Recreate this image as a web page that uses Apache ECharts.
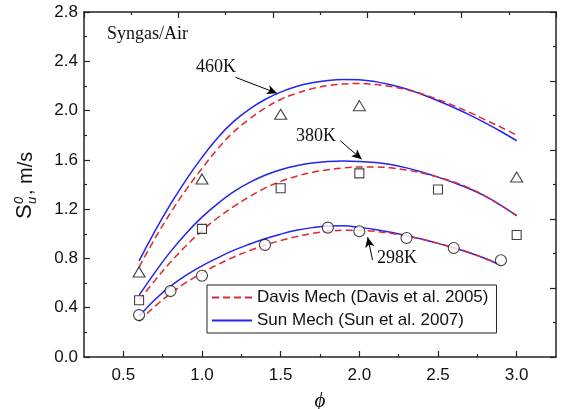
<!DOCTYPE html>
<html>
<head>
<meta charset="utf-8">
<script src="https://cdn.jsdelivr.net/npm/echarts@6/dist/echarts.min.js"></script>
<style>
html,body{margin:0;padding:0;background:#fff;}
#c{width:563px;height:409px;}
</style>
</head>
<body>
<div id="c"></div>
<script>
// ---- data ----
var phiCurve = [0.6,0.7,0.8,0.9,1.0,1.1,1.2,1.3,1.4,1.5,1.6,1.7,1.8,1.9,2.0,2.1,2.2,2.3,2.4,2.5,2.6,2.7,2.8,2.9,3.0];
var phiCurve298 = [0.6,0.7,0.8,0.9,1.0,1.1,1.2,1.3,1.4,1.5,1.6,1.7,1.8,1.9,2.0,2.1,2.2,2.3,2.4,2.5,2.6,2.7,2.8,2.9];

var sun460 = [0.78,1.02,1.24,1.44,1.62,1.78,1.91,2.01,2.09,2.15,2.195,2.225,2.245,2.253,2.25,2.235,2.21,2.175,2.13,2.08,2.025,1.965,1.90,1.83,1.755];
var davis460 = [0.73,0.96,1.17,1.36,1.53,1.69,1.825,1.93,2.02,2.09,2.14,2.178,2.203,2.216,2.22,2.212,2.195,2.17,2.135,2.09,2.04,1.985,1.925,1.865,1.80];
var sun380 = [0.50,0.685,0.855,1.005,1.135,1.245,1.34,1.415,1.475,1.52,1.553,1.574,1.586,1.59,1.587,1.578,1.562,1.535,1.50,1.46,1.415,1.365,1.305,1.23,1.145];
var davis380 = [0.46,0.62,0.77,0.905,1.025,1.13,1.22,1.30,1.37,1.425,1.467,1.498,1.52,1.535,1.542,1.543,1.535,1.518,1.493,1.46,1.42,1.37,1.305,1.23,1.15];
var sun298 = [0.33,0.465,0.575,0.665,0.74,0.805,0.865,0.915,0.96,0.997,1.028,1.05,1.063,1.065,1.052,1.035,1.012,0.985,0.955,0.922,0.886,0.846,0.80,0.745];
var davis298 = [0.29,0.41,0.515,0.605,0.68,0.75,0.81,0.862,0.907,0.945,0.977,1.003,1.02,1.028,1.028,1.02,1.004,0.982,0.955,0.922,0.886,0.846,0.80,0.745];

var phiExp460 = [0.6,1.0,1.5,2.0,3.0];
var exp460 = [0.69,1.445,1.97,2.04,1.46];
var phiExp380 = [0.6,1.0,1.5,2.0,2.5,3.0];
var exp380 = [0.46,1.04,1.37,1.49,1.36,0.99];
var phiExp298 = [0.6,0.8,1.0,1.4,1.8,2.0,2.3,2.6,2.9];
var exp298 = [0.34,0.535,0.66,0.91,1.05,1.02,0.966,0.885,0.785];

var xMajorTicks = [0.5,1.0,1.5,2.0,2.5,3.0];
var xMinorTicks = [0.75,1.25,1.75,2.25,2.75];

var davisName = 'Davis Mech (Davis et al. 2005)';
var sunName = 'Sun Mech (Sun et al. 2007)';

// annotation arrows in data coordinates [phi, Su]
var arrow460 = [[1.213,2.27],[1.477,2.14]];
var arrow380 = [[1.878,1.756],[2.015,1.605]];
var arrow298 = [[2.084,0.787],[2.053,0.972]];

function pairs(xs, ys){ return ys.map(function(v,i){ return [xs[i], v]; }); }

var RED = '#e0262e', BLUE = '#2424ee';
var SANS = '"Liberation Sans", Arial, Helvetica, sans-serif';
var SERIF = '"Liberation Serif", "Times New Roman", serif';

function sunLine(data){
  return {type:'line', name:sunName, data:data, smooth:0.4, symbol:'none', z:2,
    lineStyle:{color:BLUE, width:1.5, type:'solid'}, itemStyle:{color:BLUE}};
}
function davisLine(data){
  return {type:'line', name:davisName, data:data, smooth:0.4, symbol:'none', z:3,
    lineStyle:{color:RED, width:1.5, type:[7,4]}, itemStyle:{color:RED}};
}
function expScatter(data, sym, size){
  return {type:'scatter', data:data, symbol:sym, symbolSize:size, z:5,
    itemStyle:{color:'#fff', borderColor:'#111', borderWidth:1.1}};
}
function arrowLine(a){
  return [{coord:a[0]},{coord:a[1]}];
}

var chart = echarts.init(document.getElementById('c'), null, {renderer:'canvas'});
var AX = '#222';
chart.setOption({
  animation:false,
  backgroundColor:'#fff',
  grid:{left:84, right:7, top:12, bottom:52, containLabel:false, outerBoundsMode:'none'},
  xAxis:[
    {type:'value', position:'bottom', min:0.25, max:3.25, interval:0.25,
     axisLine:{show:true, onZero:false, lineStyle:{color:AX, width:1.5}},
     axisTick:{show:true, inside:true, length:6, customValues:xMajorTicks, lineStyle:{color:AX, width:1.2}},
     axisLabel:{show:true, customValues:xMajorTicks, margin:10, fontSize:17, fontFamily:SANS, color:'#111',
       formatter:function(v){return v.toFixed(1);}},
     splitLine:{show:false},
     name:'\u03d5', nameLocation:'middle', nameGap:34,
     nameTextStyle:{fontSize:21, fontStyle:'italic', fontFamily:SERIF, color:'#111'}},
    {type:'value', position:'bottom', min:0.25, max:3.25, interval:0.25,
     axisLine:{show:false, onZero:false},
     axisTick:{show:true, inside:true, length:3, customValues:xMinorTicks, lineStyle:{color:AX, width:1.2}},
     axisLabel:{show:false}, splitLine:{show:false}},
    {type:'value', position:'top', min:0, max:10, interval:2,
     axisLine:{show:true, onZero:false, lineStyle:{color:AX, width:1.5}},
     axisTick:{show:true, inside:true, length:6, lineStyle:{color:AX, width:1.2}},
     minorTick:{show:true, splitNumber:2, length:3, lineStyle:{color:AX, width:1.2}},
     axisLabel:{show:false}, splitLine:{show:false}, minorSplitLine:{show:false}}
  ],
  yAxis:[
    {type:'value', position:'left', min:0, max:2.8, interval:0.4,
     axisLine:{show:true, onZero:false, lineStyle:{color:AX, width:1.5}},
     axisTick:{show:true, inside:true, length:6, lineStyle:{color:AX, width:1.2}},
     minorTick:{show:true, splitNumber:2, length:3, lineStyle:{color:AX, width:1.2}},
     axisLabel:{show:true, margin:6, fontSize:17, fontFamily:SANS, color:'#111',
       formatter:function(v){return v.toFixed(1);}},
     splitLine:{show:false}, minorSplitLine:{show:false}},
    {type:'value', position:'right', min:0, max:10, interval:2,
     axisLine:{show:true, onZero:false, lineStyle:{color:AX, width:1.5}},
     axisTick:{show:true, inside:true, length:6, lineStyle:{color:AX, width:1.2}},
     minorTick:{show:true, splitNumber:2, length:3, lineStyle:{color:AX, width:1.2}},
     axisLabel:{show:false}, splitLine:{show:false}, minorSplitLine:{show:false}}
  ],
  legend:{
    data:[davisName, sunName], orient:'vertical', left:207, top:285,
    backgroundColor:'#fff', borderColor:'#222', borderWidth:1, borderRadius:0,
    padding:[4,8,4,4], itemWidth:40, itemHeight:12, itemGap:6,
    itemStyle:{opacity:0},
    textStyle:{fontSize:17, fontFamily:SANS, color:'#111'}, selectedMode:false
  },
  series:[
    sunLine(pairs(phiCurve, sun460)),
    sunLine(pairs(phiCurve, sun380)),
    sunLine(pairs(phiCurve298, sun298)),
    davisLine(pairs(phiCurve, davis460)),
    davisLine(pairs(phiCurve, davis380)),
    davisLine(pairs(phiCurve298, davis298)),
    expScatter(pairs(phiExp460, exp460), 'triangle', [12,10]),
    expScatter(pairs(phiExp380, exp380), 'rect', 9),
    expScatter(pairs(phiExp298, exp298), 'circle', 11),
    {type:'line', data:[], silent:true,
     markLine:{silent:true, symbol:['none','arrow'], symbolSize:[7,10],
       label:{show:false}, lineStyle:{color:'#000', width:1, type:'solid'},
       emphasis:{disabled:true},
       data:[arrowLine(arrow460), arrowLine(arrow380), arrowLine(arrow298)]}}
  ],
  graphic:[
    {type:'text', left:107, top:25, style:{text:'Syngas/Air', font:'18px '+SERIF, fill:'#111'}},
    {type:'text', x:196, y:67, style:{text:'460K', font:'18px '+SERIF, fill:'#111', verticalAlign:'middle'}},
    {type:'text', x:296, y:136, style:{text:'380K', font:'18px '+SERIF, fill:'#111', verticalAlign:'middle'}},
    {type:'text', x:377, y:258, style:{text:'298K', font:'18px '+SERIF, fill:'#111', verticalAlign:'middle'}},
    {type:'group', x:25, y:219, rotation:Math.PI/2, children:[
      {type:'text', x:0, y:0, style:{text:'S', font:'22px '+SANS, fill:'#111', verticalAlign:'middle'}},
      {type:'text', x:15, y:-6, style:{text:'0', font:'italic 13px '+SANS, fill:'#111', verticalAlign:'middle'}},
      {type:'text', x:15, y:7, style:{text:'u', font:'italic 13px '+SANS, fill:'#111', verticalAlign:'middle'}},
      {type:'text', x:24, y:1, style:{text:', m/s', font:'20px '+SANS, fill:'#111', verticalAlign:'middle'}}
    ]}
  ]
});
</script>
</body>
</html>
